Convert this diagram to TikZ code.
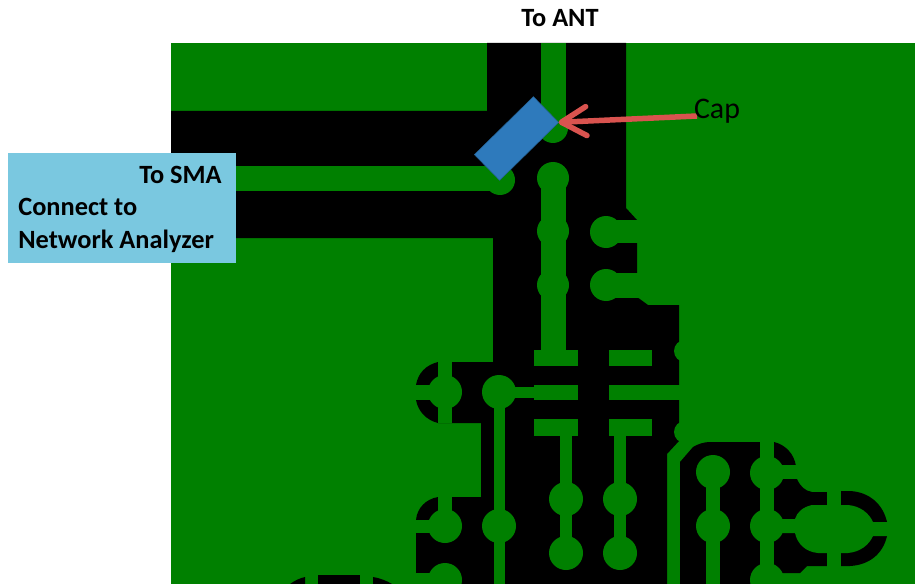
\documentclass[tikz,border=0pt]{standalone}
\usepackage{fontspec}
\setmainfont{Carlito}
\usepackage{tikz}
\usetikzlibrary{arrows.meta}
\definecolor{copper}{RGB}{0,128,0}
\definecolor{capblue}{RGB}{46,122,188}
\definecolor{labelblue}{RGB}{122,200,224}
\definecolor{arrowred}{RGB}{217,83,79}

\begin{document}
\begin{tikzpicture}[x=0.02cm, y=-0.02cm,
	note/.style={inner sep=0pt, font=\bfseries\fontsize{15}{18}\selectfont, text=black}]
	\useasboundingbox (0,0) rectangle (915,584);
	\fill [copper] (171,43) rectangle (915,584);
	\fill [black] (487,43) -- (626,43) -- (626,208) -- (637,220) -- (637,297) -- (648,305) -- (679,305) -- (679,441) -- (667,454) -- (667,584) -- (416,584) -- (416,520) .. controls (417,508) and (426,499) .. (438,497) -- (481,497) -- (481,423) -- (438,423) .. controls (426,420) and (418,411) .. (416,400) -- (416,385) .. controls (418,373) and (426,365) .. (438,362) -- (493,362) -- (493,238) -- (171,238) -- (171,111) -- (487,111) -- cycle;
	\fill [black] (680,462) -- (693,447) .. controls (698,444) and (704,442) .. (710,442) -- (774,442) .. controls (786,445) and (794,454) .. (796,466) -- (797,479) .. controls (800,486) and (805,491) .. (812,492) -- (827,492) -- (827,566) -- (807,566) -- (800,573) -- (782,573) -- (774,564) -- (774,584) -- (680,584) -- cycle;
	\fill [black] (841,491) -- (850,491) .. controls (869,492) and (883,504) .. (887,522) -- (887,536) .. controls (883,554) and (869,565) .. (850,566) -- (841,566) -- cycle;
	\fill [black] (290,584) .. controls (294,581) and (300,578) .. (305,577) -- (305,584) -- cycle;
	\fill [black] (318,575) -- (360,575) -- (360,584) -- (318,584) -- cycle;
	\fill [black] (373,577) .. controls (380,578) and (387,581) .. (392,584) -- (373,584) -- cycle;
	\fill [copper] (841,505) -- (827,505) -- (812,505) .. controls (803,507) and (797,512) .. (795,519) -- (770,519) -- (770,533) -- (795,533) .. controls (797,543) and (805,552) .. (818,553) -- (848,553) .. controls (860,552) and (869,545) .. (873,536) -- (890,536) -- (890,522) -- (873,522) .. controls (869,513) and (860,506) .. (848,505) -- cycle;
	\fill [copper] (541,43) rectangle (566,130);
	\fill [copper] (541,178) rectangle (566,366);
	\fill [copper] (171,166) rectangle (500,191);
	\fill [copper] (606,220) rectangle (640,243);
	\fill [copper] (606,273) rectangle (640,298);
	\fill [copper] (534,350) rectangle (578,366);
	\fill [copper] (609,350) rectangle (652,366);
	\fill [copper] (534,385) rectangle (578,400);
	\fill [copper] (609,385) rectangle (680,400);
	\fill [copper] (534,419) rectangle (578,436);
	\fill [copper] (609,419) rectangle (652,436);
	\fill [copper] (499,387) rectangle (536,398);
	\fill [copper] (560,430) rectangle (572,553);
	\fill [copper] (614,430) rectangle (626,553);
	\fill [copper] (494,392) rectangle (505,584);
	\fill [copper] (438,362) rectangle (452,423);
	\fill [copper] (410,385) rectangle (445,400);
	\fill [copper] (438,496) rectangle (452,526);
	\fill [copper] (410,520) rectangle (445,533);
	\fill [copper] (410,573) rectangle (445,584);
	\fill [copper] (706,472) rectangle (720,584);
	\fill [copper] (760,440) rectangle (774,584);
	\fill [copper] (767,465) rectangle (798,479);
	\fill [copper] (827,485) rectangle (841,570);
	\fill [copper] (553,128) circle (15);
	\fill [copper] (500,180) circle (15);
	\fill [copper] (553,178) circle (16);
	\fill [copper] (553,231) circle (16);
	\fill [copper] (553,285) circle (16);
	\fill [copper] (606,232) circle (16);
	\fill [copper] (606,285) circle (16);
	\fill [copper] (685,351) circle (11);
	\fill [copper] (685,432) circle (11);
	\fill [copper] (445,392) circle (17);
	\fill [copper] (499,392) circle (17);
	\fill [copper] (445,526) circle (17);
	\fill [copper] (499,526) circle (17);
	\fill [copper] (445,580) circle (17);
	\fill [copper] (566,499) circle (17);
	\fill [copper] (566,553) circle (17);
	\fill [copper] (620,499) circle (17);
	\fill [copper] (620,553) circle (17);
	\fill [copper] (713,472) circle (17);
	\fill [copper] (713,526) circle (17);
	\fill [copper] (767,473) circle (17);
	\fill [copper] (767,526) circle (17);
	\fill [copper] (767,580) circle (17);
	\node [fill=capblue, draw=capblue!80!black, line width=0.3pt, rotate=44.5, minimum width=1.654cm, minimum height=0.72cm, inner sep=0pt, outer sep=0pt] (chipcap) at (516.5,138.5) {};
	\draw [-{Straight Barb[length=0.5cm, width=0.58cm, line width=0.11cm, round]}, arrowred, line width=0.11cm] (697,116) coordinate (capstart) -- (chipcap.south east);
	\node [note, font=\fontsize{17}{20}\selectfont] (caplabel) at (717,111) {Cap};
	\node [note] (antlabel) at (560,18) {To ANT};
	\node [fill=labelblue, minimum width=4.56cm, minimum height=2.2cm, inner sep=0pt] (smabox) at (122,208) {};
	\node [note, anchor=east] (smalabel) at (222,175) {To SMA};
	\node [note, anchor=west] (connectlabel) at (18,207) {Connect to};
	\node [note, anchor=west] (analyzerlabel) at (18,241) {Network Analyzer};
	\end{tikzpicture}
\end{document}
